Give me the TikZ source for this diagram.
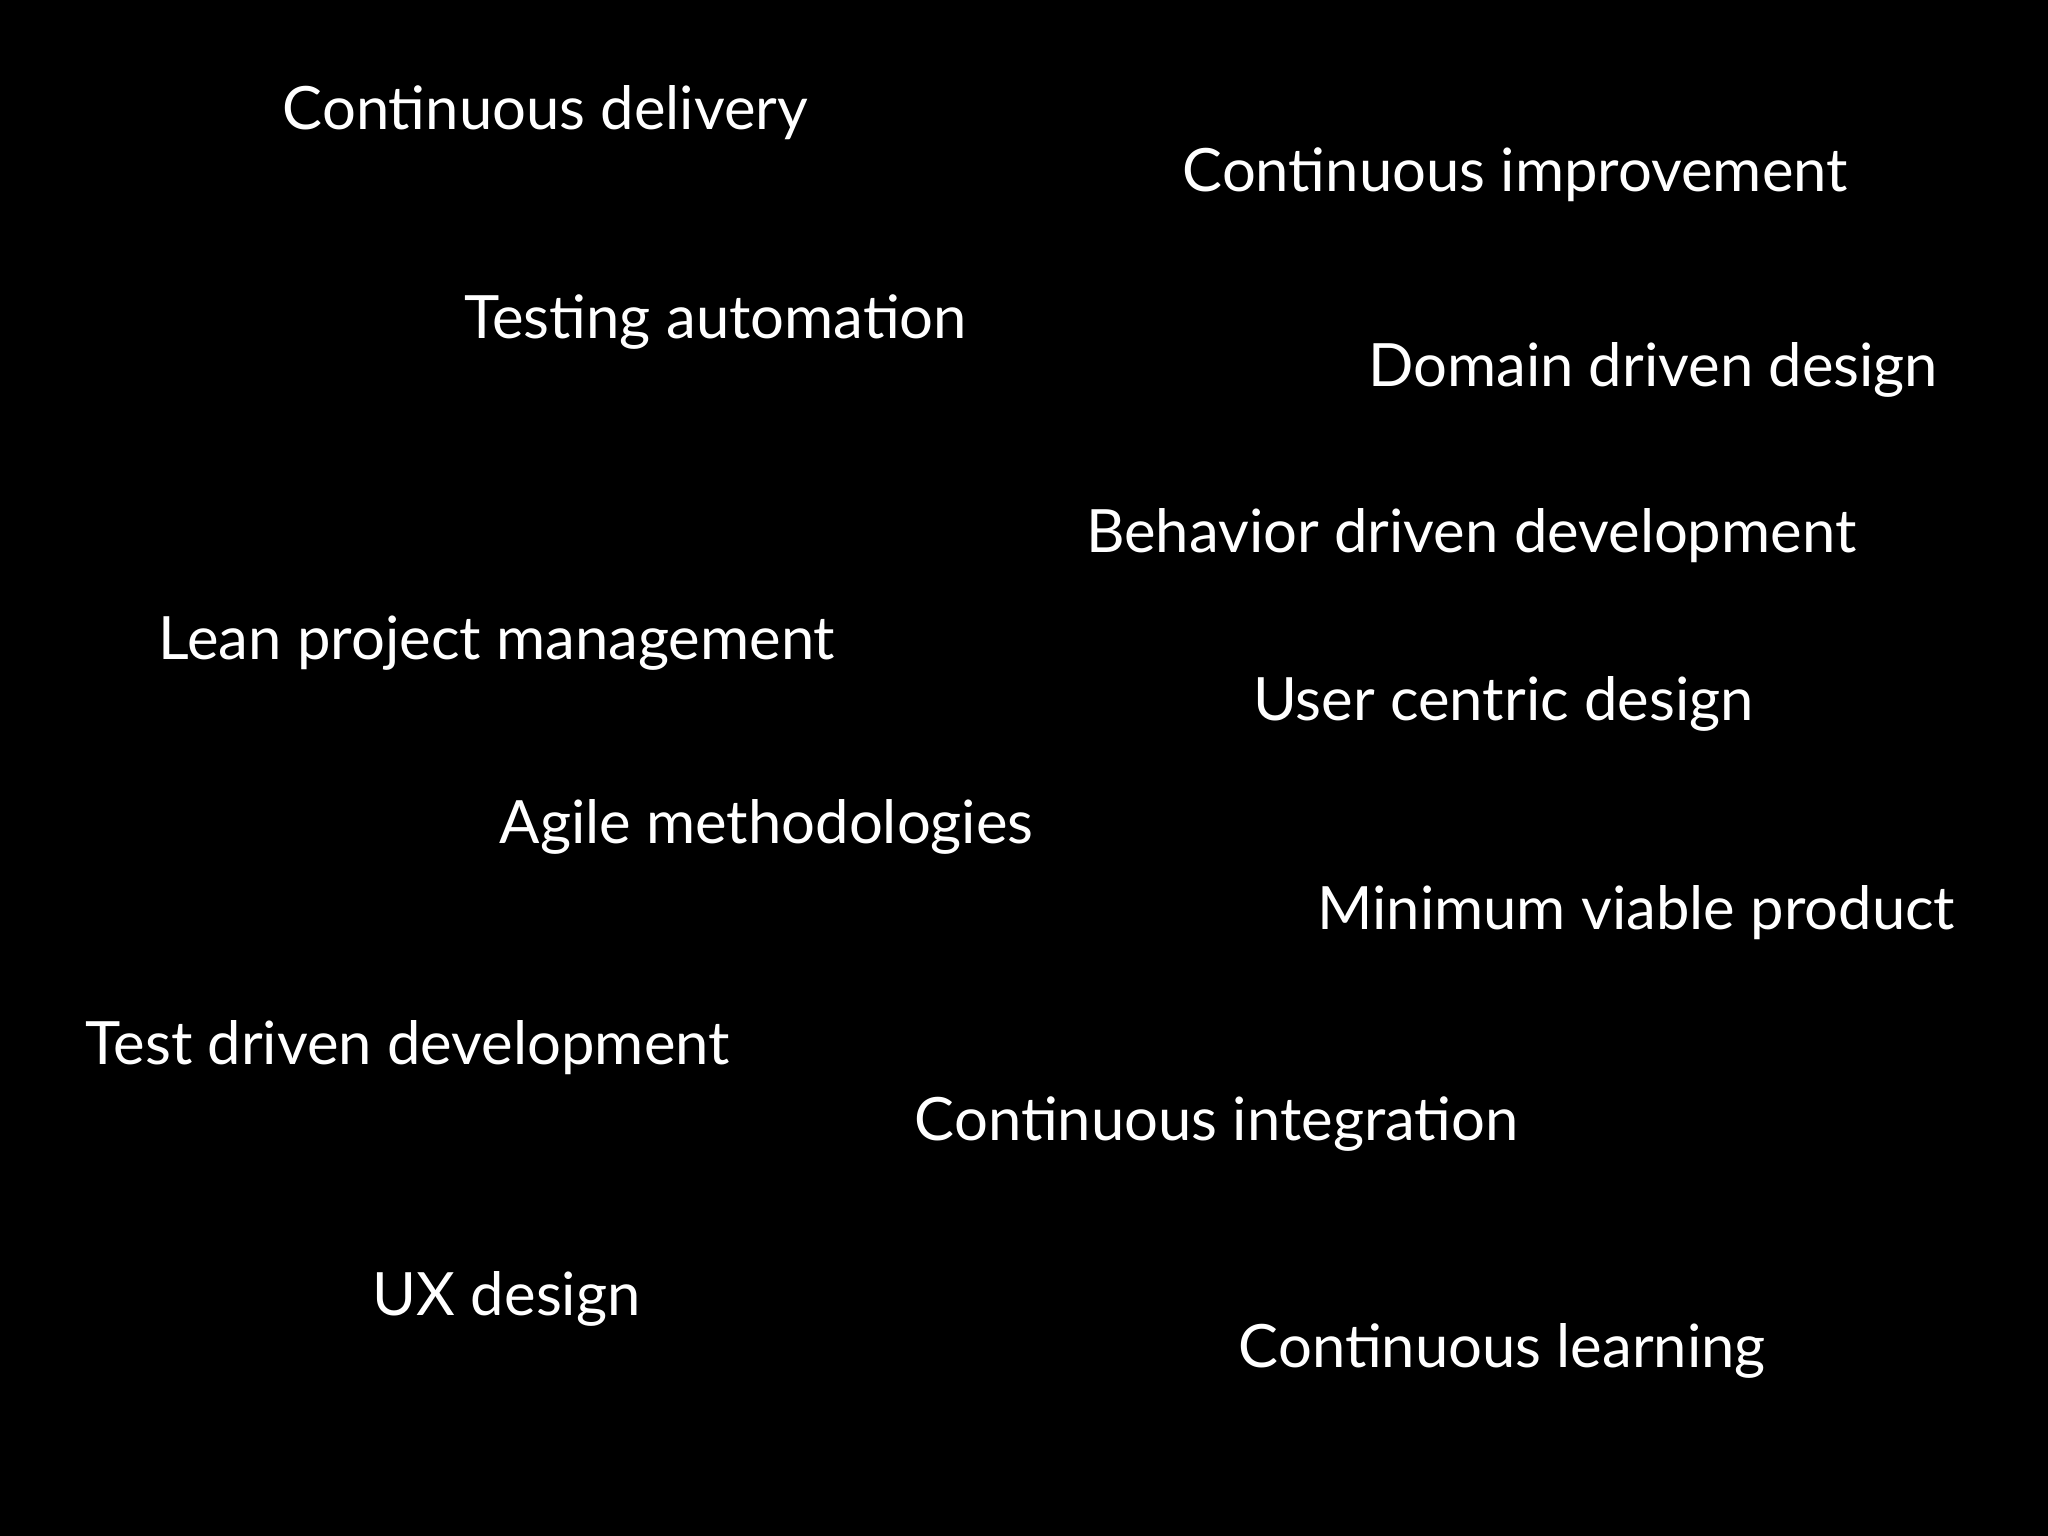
\documentclass[tikz,border=0pt]{standalone}
\usepackage{fontspec}
\setmainfont{Lato}
\begin{document}
\begin{tikzpicture}[x=0.013061cm,y=-0.013061cm,
  lbl/.style={anchor=mid west,inner sep=0pt,text=white,font=\fontsize{17}{20}\selectfont}]
\fill[black] (0,0) rectangle (1568,1176);
\useasboundingbox (0,0) rectangle (1568,1176);
\node[lbl] (a) at (216,92) {Continuous delivery};
\node[lbl] (b) at (905,140) {Continuous improvement};
\node[lbl] (c) at (355,252) {Testing automation};
\node[lbl] (d) at (1047,289) {Domain driven design};
\node[lbl] (e) at (831,416) {Behavior driven development};
\node[lbl] (f) at (121,498) {Lean project management};
\node[lbl] (g) at (959,545) {User centric design};
\node[lbl] (h) at (382,639) {Agile methodologies};
\node[lbl] (i) at (1008,705) {Minimum viable product};
\node[lbl] (j) at (65,808) {Test driven development};
\node[lbl] (k) at (700,866) {Continuous integration};
\node[lbl] (l) at (285,1000) {UX design};
\node[lbl] (m) at (948,1040) {Continuous learning};
\end{tikzpicture}
\end{document}
